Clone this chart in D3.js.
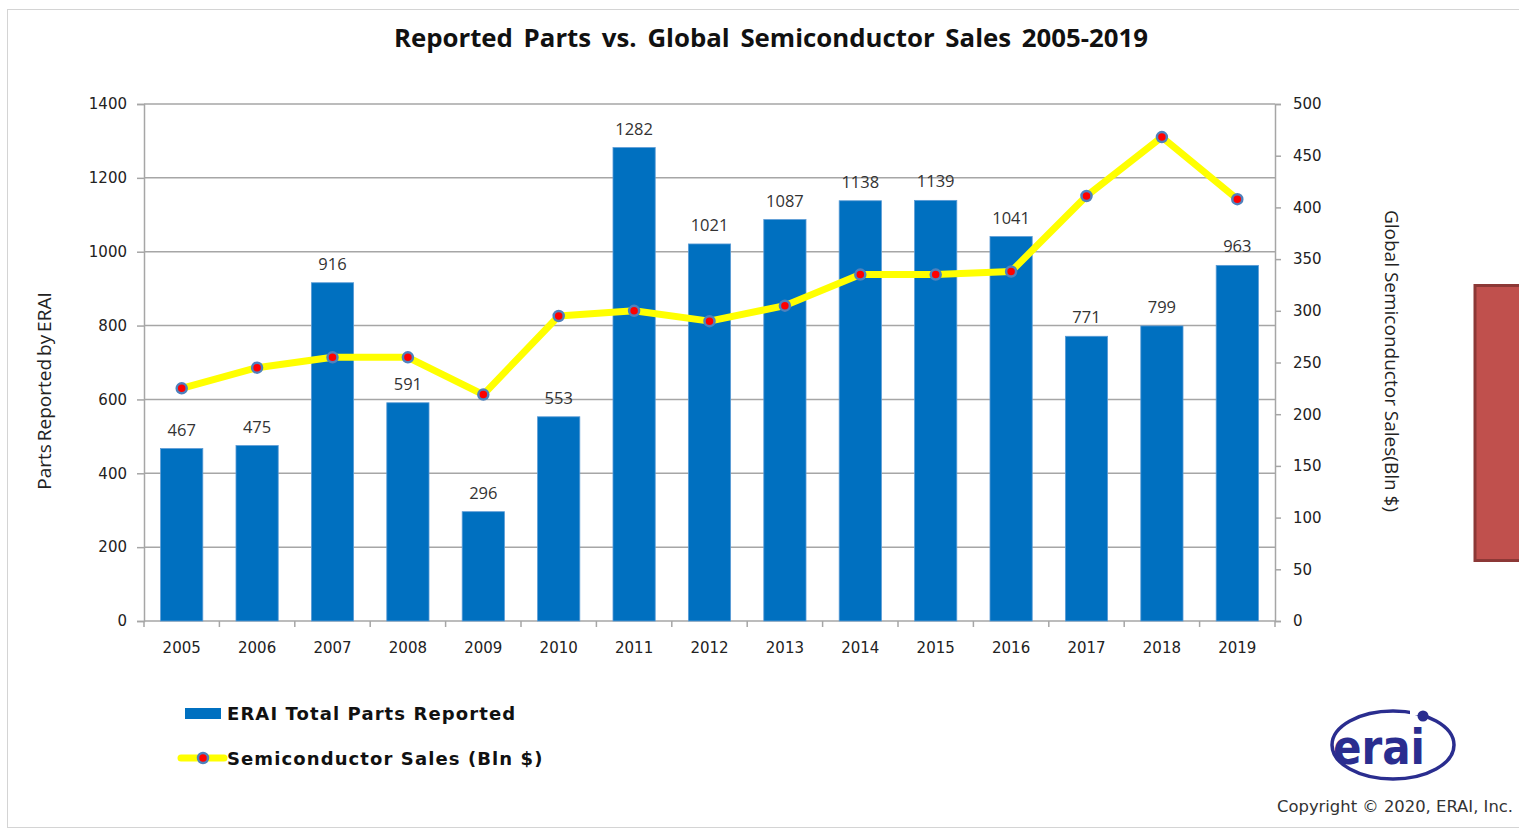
<!DOCTYPE html>
<html>
<head>
<meta charset="utf-8">
<script src="https://cdn.jsdelivr.net/npm/d3@7"></script>
<style>
  html, body { margin: 0; padding: 0; background: #fff; }
  svg { display: block; }
</style>
</head>
<body>
<svg id="chart" width="1519" height="830"></svg>
<script>
// Categories and series
const years = ["2005","2006","2007","2008","2009","2010","2011","2012","2013","2014","2015","2016","2017","2018","2019"];
const partsReported = [467, 475, 916, 591, 296, 553, 1282, 1021, 1087, 1138, 1139, 1041, 771, 799, 963];
const semiSales = [225, 245, 255, 255, 219, 295, 300, 290, 305, 335, 335, 338, 411, 468, 408];
const leftTicks = [0, 200, 400, 600, 800, 1000, 1200, 1400];
const rightTicks = [0, 50, 100, 150, 200, 250, 300, 350, 400, 450, 500];
const legendLabels = ["ERAI Total Parts Reported", "Semiconductor Sales (Bln $)"];

const svg = d3.select("#chart");
const W = 1519, H = 830;
const plot = { left: 144, right: 1275, top: 104, bottom: 621 };

const tickFont = "'DejaVu Sans', Verdana, sans-serif";
const labelFont = "'Open Sans', 'Noto Sans', sans-serif";

// outer frame
svg.append("rect")
  .attr("x", 7.5).attr("y", 9.5).attr("width", W).attr("height", H - 12)
  .attr("fill", "#fff").attr("stroke", "#d4d4d4").attr("stroke-width", 1);

const x = d3.scaleBand().domain(years).range([plot.left, plot.right]).paddingInner(0.44).paddingOuter(0.22);
const xOuter = d3.scaleBand().domain(years).range([plot.left, plot.right]);
const yL = d3.scaleLinear().domain([0, 1400]).range([plot.bottom, plot.top]);
const yR = d3.scaleLinear().domain([0, 500]).range([plot.bottom, plot.top]);

// title
svg.append("text")
  .attr("x", 771).attr("y", 47)
  .attr("text-anchor", "middle")
  .attr("font-family", labelFont).attr("font-weight", "bold")
  .attr("font-size", 25.8).attr("fill", "#111")
  .attr("word-spacing", 4)
  .text("Reported Parts vs. Global Semiconductor Sales 2005-2019");

// gridlines
svg.append("g").selectAll("line")
  .data(leftTicks.filter(d => d > 0))
  .join("line")
  .attr("x1", plot.left).attr("x2", plot.right)
  .attr("y1", d => yL(d)).attr("y2", d => yL(d))
  .attr("stroke", "#a6a6a6").attr("stroke-width", 1.5);

// left axis
const gL = svg.append("g").attr("transform", `translate(${plot.left},0)`)
  .call(d3.axisLeft(yL).tickValues(leftTicks).tickFormat(d3.format("d")).tickSize(7).tickPadding(10));
gL.select(".domain").attr("stroke", "#a6a6a6").attr("stroke-width", 1.5);
gL.selectAll(".tick line").attr("stroke", "#a6a6a6").attr("stroke-width", 1.5);
gL.selectAll(".tick text").attr("font-family", tickFont).attr("font-size", 15).attr("fill", "#222");

// right axis
const gR = svg.append("g").attr("transform", `translate(${plot.right},0)`)
  .call(d3.axisRight(yR).tickValues(rightTicks).tickFormat(d3.format("d")).tickSize(6).tickPadding(12));
gR.select(".domain").attr("stroke", "#a6a6a6").attr("stroke-width", 1.5);
gR.selectAll(".tick line").attr("stroke", "#a6a6a6").attr("stroke-width", 1.5);
gR.selectAll(".tick text").attr("font-family", tickFont).attr("font-size", 15).attr("fill", "#222");

// bottom axis: ticks between categories
const gB = svg.append("g").attr("transform", `translate(0,${plot.bottom})`);
gB.append("line").attr("x1", plot.left).attr("x2", plot.right).attr("y1", 0).attr("y2", 0)
  .attr("stroke", "#a6a6a6").attr("stroke-width", 1.5);
gB.selectAll("line.tk")
  .data(years.concat(["end"]))
  .join("line").attr("class", "tk")
  .attr("x1", (d, i) => i < years.length ? xOuter(d) : plot.right)
  .attr("x2", (d, i) => i < years.length ? xOuter(d) : plot.right)
  .attr("y1", 0).attr("y2", 6)
  .attr("stroke", "#a6a6a6").attr("stroke-width", 1.5);
gB.selectAll("text")
  .data(years).join("text")
  .attr("x", d => xOuter(d) + xOuter.bandwidth() / 2)
  .attr("y", 32)
  .attr("text-anchor", "middle")
  .attr("font-family", tickFont).attr("font-size", 15).attr("fill", "#222")
  .text(d => d);

// axis titles
svg.append("text")
  .attr("transform", "translate(51,391) rotate(-90)")
  .attr("text-anchor", "middle")
  .attr("font-family", labelFont).attr("font-size", 19).attr("fill", "#222")
  .attr("word-spacing", -2)
  .text("Parts Reported by ERAI");
svg.append("text")
  .attr("transform", "translate(1385,361) rotate(90)")
  .attr("text-anchor", "middle")
  .attr("font-family", labelFont).attr("font-size", 19).attr("fill", "#222")
  .text("Global Semiconductor Sales(Bln $)");

// bars
svg.append("g").selectAll("rect")
  .data(years.map((y, i) => ({ y, v: partsReported[i] })))
  .join("rect")
  .attr("x", d => x(d.y)).attr("width", x.bandwidth())
  .attr("y", d => yL(d.v)).attr("height", d => yL(0) - yL(d.v))
  .attr("fill", "#0070c0").attr("stroke", "#5b9bd5").attr("stroke-width", 0.8);

// bar value labels
svg.append("g").selectAll("text")
  .data(years.map((y, i) => ({ y, v: partsReported[i] })))
  .join("text")
  .attr("x", d => x(d.y) + x.bandwidth() / 2)
  .attr("y", d => yL(d.v) - 13)
  .attr("text-anchor", "middle")
  .attr("font-family", labelFont).attr("font-size", 16.5).attr("fill", "#333")
  .text(d => d.v);

// sales line
const pts = years.map((y, i) => [xOuter(y) + xOuter.bandwidth() / 2, yR(semiSales[i])]);
svg.append("path")
  .attr("d", d3.line()(pts))
  .attr("fill", "none").attr("stroke", "#ffff00").attr("stroke-width", 7)
  .attr("stroke-linejoin", "round");
svg.append("g").selectAll("circle")
  .data(pts).join("circle")
  .attr("cx", d => d[0]).attr("cy", d => d[1]).attr("r", 5)
  .attr("fill", "#ff0000").attr("stroke", "#4f81bd").attr("stroke-width", 2.5);

// legend
const lg = svg.append("g");
lg.append("rect").attr("x", 185).attr("y", 708).attr("width", 36).attr("height", 11).attr("fill", "#0070c0");
lg.append("text").attr("x", 227).attr("y", 720)
  .attr("font-family", tickFont).attr("font-weight", "bold").attr("font-size", 18).attr("fill", "#111")
  .attr("letter-spacing", 1.1)
  .text(legendLabels[0]);
lg.append("line").attr("x1", 181).attr("x2", 224).attr("y1", 758).attr("y2", 758)
  .attr("stroke", "#ffff00").attr("stroke-width", 7).attr("stroke-linecap", "round");
lg.append("circle").attr("cx", 203).attr("cy", 758).attr("r", 5)
  .attr("fill", "#ff0000").attr("stroke", "#4f81bd").attr("stroke-width", 2.5);
lg.append("text").attr("x", 227).attr("y", 765)
  .attr("font-family", tickFont).attr("font-weight", "bold").attr("font-size", 18).attr("fill", "#111")
  .attr("letter-spacing", 1.1)
  .text(legendLabels[1]);

// logo
const logo = svg.append("g");
logo.append("ellipse").attr("cx", 1393).attr("cy", 745).attr("rx", 61).attr("ry", 34)
  .attr("fill", "none").attr("stroke", "#2a2d8f").attr("stroke-width", 3.5);
logo.append("rect").attr("x", 1410).attr("y", 705).attr("width", 26).attr("height", 10).attr("fill", "#fff");
logo.append("circle").attr("cx", 1423).attr("cy", 716).attr("r", 5.5).attr("fill", "#2a2d8f");
logo.append("text").attr("x", 1333).attr("y", 764)
  .attr("font-family", "'DejaVu Sans', sans-serif").attr("font-weight", "bold")
  .attr("font-size", 48).attr("fill", "#2a2d8f")
  .attr("textLength", 92).attr("lengthAdjust", "spacingAndGlyphs")
  .text("erai");
svg.append("text").attr("x", 1277).attr("y", 812)
  .attr("font-family", tickFont).attr("font-size", 16.4).attr("fill", "#333")
  .text("Copyright © 2020, ERAI, Inc.");

// side panel
svg.append("rect").attr("x", 1475).attr("y", 285.5).attr("width", 60).attr("height", 275)
  .attr("fill", "#c0504d").attr("stroke", "#8c3836").attr("stroke-width", 3);
</script>
</body>
</html>
